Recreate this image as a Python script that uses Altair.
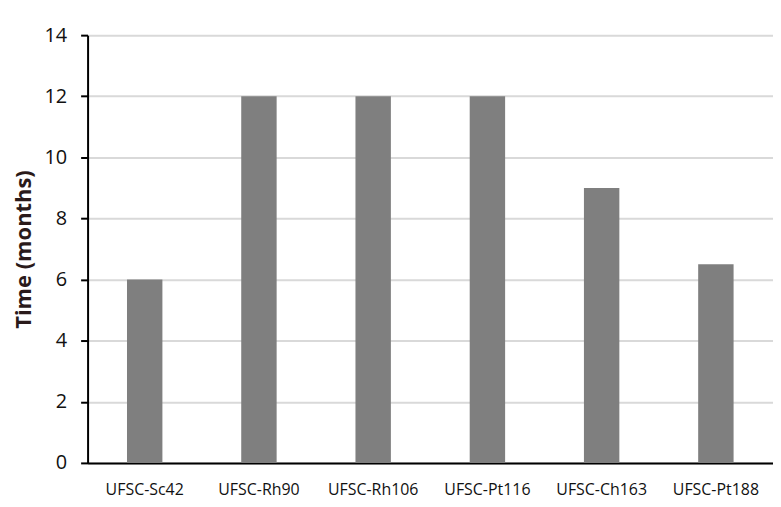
import altair as alt
import pandas as pd

strains = ["UFSC-Sc42", "UFSC-Rh90", "UFSC-Rh106", "UFSC-Pt116", "UFSC-Ch163", "UFSC-Pt188"]
months = [6, 12, 12, 12, 9, 6.5]

df = pd.DataFrame({"strain": strains, "months": months})

chart = alt.Chart(df).mark_bar(color="#7f7f7f").encode(
    x=alt.X("strain:N", sort=strains, title=None,
            scale=alt.Scale(paddingInner=0.69, paddingOuter=0.345),
            axis=alt.Axis(labelAngle=0, labelFontSize=16, labelColor="#111111",
                          labelFont="Open Sans", labelPadding=19,
                          domainColor="#000000", domainWidth=2, ticks=False, grid=False)),
    y=alt.Y("months:Q", title="Time (months)",
            scale=alt.Scale(domain=[0, 14], nice=False),
            axis=alt.Axis(values=[0, 2, 4, 6, 8, 10, 12, 14], labelFontSize=20,
                          labelColor="#111111", labelFont="Open Sans", labelPadding=14,
                          domainColor="#000000", domainWidth=2, tickColor="#000000",
                          tickWidth=2, tickSize=7, gridColor="#d9d9d9", gridWidth=2,
                          titleFontSize=22, titleFont="Open Sans", titleFontWeight="bold",
                          titleColor="#2a1a1a", titlePadding=9)),
).properties(
    width=689, height=430,
    autosize=alt.AutoSizeParams(type="none"),
    padding={"left": 80, "top": 26, "right": 0, "bottom": 35},
).configure_view(stroke=None)

chart.save("out.html", embed_options={"renderer": "svg", "actions": False})
